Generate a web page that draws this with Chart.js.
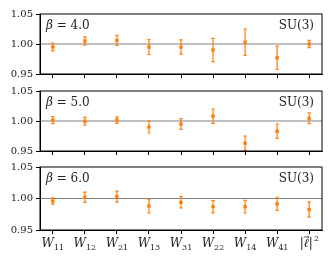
<!DOCTYPE html>
<html>
<head>
<meta charset="utf-8">
<script src="https://cdn.jsdelivr.net/npm/chart.js@4"></script>
<style>
  body { margin: 0; background: #fff; }
  #wrap { position: relative; width: 331px; height: 264px; }
  canvas { position: absolute; left: 0; }
</style>
</head>
<body>
<div id="wrap">
  <canvas id="c1" width="331" height="79" style="top:4px"></canvas>
  <canvas id="c2" width="331" height="79" style="top:81px"></canvas>
  <canvas id="c3" width="331" height="107" style="top:157px"></canvas>
</div>
<script>
// observables on the x axis
const categories = ['11', '12', '21', '13', '31', '22', '14', '41', 'l2'];
const betas = ['4.0', '5.0', '6.0'];
const yTicks = [0.95, 1.00, 1.05];

// ratio values and errors per beta
const mean4 = [0.995, 1.005, 1.006, 0.995, 0.995, 0.990, 1.003, 0.977, 1.000];
const err4  = [0.0065, 0.007, 0.0085, 0.0125, 0.012, 0.0195, 0.022, 0.0195, 0.006];
const mean5 = [1.0015, 0.9995, 1.0015, 0.990, 0.995, 1.008, 0.963, 0.983, 1.0045];
const err5  = [0.006, 0.0065, 0.0055, 0.010, 0.009, 0.012, 0.012, 0.012, 0.009];
const mean6 = [0.996, 1.002, 1.003, 0.988, 0.994, 0.987, 0.987, 0.9915, 0.9825];
const err6  = [0.005, 0.008, 0.0087, 0.011, 0.009, 0.0097, 0.010, 0.0105, 0.012];

const orange = '#ff7f0e';
const serif = '"DejaVu Serif", serif';

// error bars, reference line, frame and panel texts
const panelPlugin = {
  id: 'panel',
  beforeDatasetsDraw(chart) {
    const { ctx, chartArea, scales } = chart;
    const y1 = scales.y.getPixelForValue(1.0);
    ctx.save();
    ctx.strokeStyle = '#808080';
    ctx.lineWidth = 1;
    ctx.beginPath();
    ctx.moveTo(chartArea.left, y1);
    ctx.lineTo(chartArea.right, y1);
    ctx.stroke();
    // error bars
    const opts = chart.options.plugins.panel;
    ctx.strokeStyle = orange;
    ctx.lineWidth = 1.2;
    opts.mean.forEach((m, i) => {
      const px = scales.x.getPixelForValue(i);
      const lo = scales.y.getPixelForValue(m - opts.err[i]);
      const hi = scales.y.getPixelForValue(m + opts.err[i]);
      ctx.beginPath();
      ctx.moveTo(px, lo); ctx.lineTo(px, hi);
      ctx.moveTo(px - 1.7, lo); ctx.lineTo(px + 1.7, lo);
      ctx.moveTo(px - 1.7, hi); ctx.lineTo(px + 1.7, hi);
      ctx.stroke();
    });
    ctx.restore();
  },
  afterDraw(chart) {
    const { ctx, chartArea, scales } = chart;
    const opts = chart.options.plugins.panel;
    ctx.save();
    ctx.strokeStyle = '#000';
    ctx.lineWidth = 1;
    ctx.strokeRect(chartArea.left, chartArea.top, chartArea.right - chartArea.left, chartArea.bottom - chartArea.top);

    ctx.fillStyle = '#222';
    ctx.textBaseline = 'alphabetic';
    ctx.textAlign = 'left';
    let x = chartArea.left + 6;
    const by = chartArea.top + 15;
    ctx.font = 'italic 12px ' + serif;
    ctx.fillText('β', x, by);
    x += ctx.measureText('β').width;
    ctx.font = '12px ' + serif;
    ctx.fillText(' = ' + opts.beta, x, by);
    ctx.textAlign = 'right';
    ctx.fillText('SU(3)', chartArea.right - 8, by);

    if (opts.labels) {
      const ly = chartArea.bottom + 17;
      categories.forEach((c, i) => {
        const px = scales.x.getPixelForValue(i);
        ctx.textAlign = 'left';
        if (c === 'l2') {
          ctx.font = '12px ' + serif;
          const main = '|ℓ|';
          const w = ctx.measureText(main).width;
          ctx.font = '8px ' + serif;
          const w2 = ctx.measureText('2').width;
          const sx = px - (w + w2) / 2;
          ctx.font = 'italic 12px ' + serif;
          ctx.fillText(main, sx, ly);
          ctx.font = '8px ' + serif;
          ctx.fillText('2', sx + w + 0.5, ly - 6);
          // small arrow over the l
          const ax = sx + ctx.measureText('|').width + 1.5;
          ctx.lineWidth = 0.7;
          ctx.strokeStyle = '#222';
          ctx.beginPath();
          ctx.moveTo(ax, ly - 10); ctx.lineTo(ax + 5, ly - 10);
          ctx.moveTo(ax + 3.5, ly - 11.5); ctx.lineTo(ax + 5, ly - 10); ctx.lineTo(ax + 3.5, ly - 8.5);
          ctx.stroke();
        } else {
          ctx.font = 'italic 12px ' + serif;
          const w = ctx.measureText('W').width;
          ctx.font = '8px ' + serif;
          const w2 = ctx.measureText(c).width;
          const sx = px - (w + w2) / 2;
          ctx.font = 'italic 12px ' + serif;
          ctx.fillText('W', sx, ly);
          ctx.font = '8px ' + serif;
          ctx.fillText(c, sx + w, ly + 2.5);
        }
      });
    }
    ctx.restore();
  }
};

function makePanel(id, beta, mean, err, labels, xHeight) {
  return new Chart(document.getElementById(id), {
    type: 'scatter',
    data: {
      datasets: [{
        data: mean.map((v, i) => ({ x: i, y: v })),
        backgroundColor: orange,
        borderColor: orange,
        pointStyle: 'rect',
        pointRadius: 2.4,
        borderWidth: 0
      }]
    },
    options: {
      responsive: false,
      animation: false,
      layout: { padding: { top: 10, right: 9, left: 0, bottom: 0 } },
      plugins: {
        legend: { display: false },
        tooltip: { enabled: false },
        panel: { beta: beta, mean: mean, err: err, labels: labels }
      },
      scales: {
        x: {
          type: 'linear',
          min: -0.4,
          max: 8.4,
          afterBuildTicks: s => { s.ticks = categories.map((c, i) => ({ value: i })); },
          afterFit: s => { s.height = xHeight; },
          ticks: { callback: () => '', padding: 0 },
          grid: { drawOnChartArea: false, tickLength: 4, color: '#000' },
          border: { color: '#000' }
        },
        y: {
          min: 0.95,
          max: 1.05,
          afterBuildTicks: s => { s.ticks = yTicks.map(v => ({ value: v })); },
          afterFit: s => { s.width = 40; },
          ticks: {
            callback: v => v.toFixed(2),
            color: '#222',
            padding: 3,
            font: { family: serif, size: 10 }
          },
          grid: { drawOnChartArea: false, tickLength: 4, color: '#000' },
          border: { color: '#000' }
        }
      }
    },
    plugins: [panelPlugin]
  });
}

makePanel('c1', betas[0], mean4, err4, false, 6);
makePanel('c2', betas[1], mean5, err5, false, 6);
makePanel('c3', betas[2], mean6, err6, true, 34);
</script>
</body>
</html>
